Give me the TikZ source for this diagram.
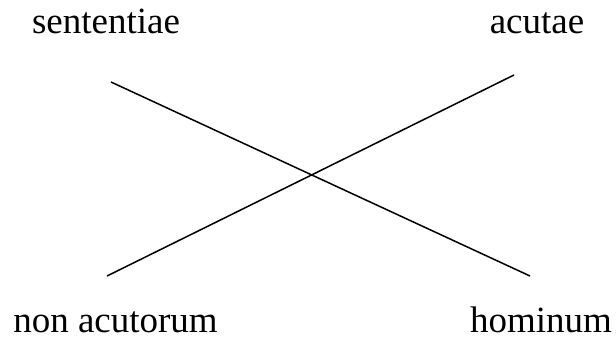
\documentclass[tikz,border=0pt]{standalone}
\usepackage{fontspec}
\setmainfont{Liberation Serif}
\begin{document}
\begin{tikzpicture}[x=1pt,y=-1pt,
  lbl/.style={anchor=base,inner sep=0pt,font=\fontsize{37}{44}\selectfont},
  ln/.style={line width=1.5pt,black}]
\useasboundingbox (0,0) rectangle (616,338);
\node[lbl] (s) at (106,33) {sententiae};
\node[lbl] (a) at (537,33) {acutae};
\node[lbl] (n) at (115.5,332) {non acutorum};
\node[lbl] (h) at (541,332) {hominum};
\coordinate (p1) at (111,82);
\coordinate (p2) at (530,276);
\coordinate (q1) at (107,276);
\coordinate (q2) at (514,75);
\draw[ln] (p1) -- (p2);
\draw[ln] (q1) -- (q2);
\end{tikzpicture}
\end{document}
